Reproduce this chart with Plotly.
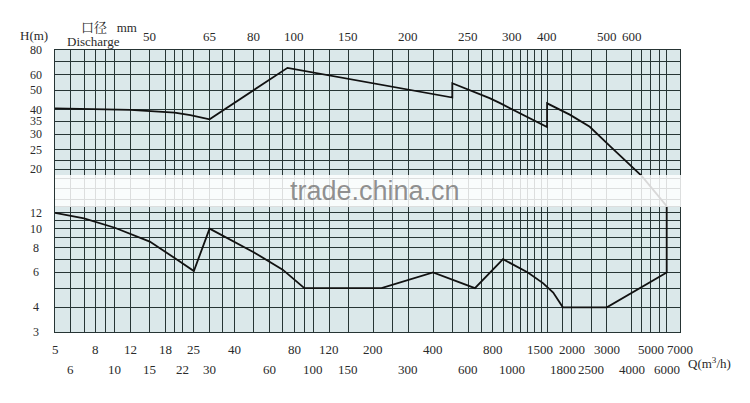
import math
import plotly.graph_objects as go

# ---- data ----
# upper (head) curve
upper_q = [5, 12, 20, 24, 30, 74, 500, 500, 770, 870, 1500, 1500, 1950, 2460, 3100, 4500, 6000]
upper_h = [40.5, 39.8, 38.6, 37.5, 35.7, 65.0, 46.0, 54.3, 45.7, 43.1, 32.6, 43.0, 37.7, 32.7, 26.2, 18.4, 13.0]
# lower curve
lower_q = [5, 7, 10, 15, 20, 25, 30, 50, 70, 90, 220, 400, 650, 900, 1200, 1430, 1610, 1800, 3000, 6000, 6000]
lower_h = [12.0, 11.26, 10.1, 8.6, 7.1, 6.1, 10.0, 7.6, 6.2, 5.0, 5.0, 6.0, 5.0, 7.0, 6.0, 5.3, 4.75, 4.0, 4.0, 6.0, 13.0]

# grid values
grid_q = [6, 7, 8, 9, 10, 12, 15, 18, 20, 22, 25, 30, 35, 40, 50, 60, 70, 80, 90, 100, 120, 150,
          200, 250, 300, 400, 500, 600, 700, 800, 900, 1000, 1100, 1200, 1300, 1400, 1500, 1800,
          2000, 2500, 3000, 4000, 4500, 5000, 5500, 6000]
grid_h = [4, 5, 6, 7, 8, 9, 10, 11, 12, 13, 14, 16, 18, 20, 22, 25, 30, 35, 40, 50, 60, 70]

# tick labels
x_row1 = [5, 8, 12, 18, 25, 40, 80, 120, 200, 400, 800, 1500, 2000, 3000, 5000, 7000]
x_row2 = [6, 10, 15, 22, 30, 60, 100, 150, 300, 600, 1000, 1800, 2500, 4000, 6000]
y_labels = [80, 60, 50, 40, 35, 30, 25, 20, 12, 10, 8, 6, 4, 3]
discharge_labels = ["50", "65", "80", "100", "150", "200", "250", "300", "400", "500", "600"]
discharge_q = [15, 30, 50, 80, 150, 300, 600, 1000, 1500, 3000, 4000]

SERIF = "Liberation Serif, Times New Roman, Noto Serif CJK SC, Noto Sans CJK SC, serif"
TXT = "#2a2a2a"
GRID = "#263434"

fig = go.Figure()
fig.add_trace(go.Scatter(x=upper_q, y=upper_h, mode="lines",
                         line=dict(color="#111111", width=1.8), hoverinfo="skip"))
fig.add_trace(go.Scatter(x=lower_q, y=lower_h, mode="lines",
                         line=dict(color="#111111", width=1.8), hoverinfo="skip"))

ann = []
for q in x_row1:
    ann.append(dict(x=math.log10(q), xref="x", y=0, yref="paper", yshift=-17,
                    xshift=-7 if q == 1500 else 0,
                    text=str(q), showarrow=False, xanchor="center", yanchor="middle",
                    font=dict(family=SERIF, size=13, color=TXT)))
for q in x_row2:
    ann.append(dict(x=math.log10(q), xref="x", y=0, yref="paper", yshift=-37,
                    text=str(q), showarrow=False, xanchor="center", yanchor="middle",
                    font=dict(family=SERIF, size=13, color=TXT)))
for h in y_labels:
    ann.append(dict(x=0, xref="paper", xshift=-19.5, y=math.log10(h), yref="y",
                    text=str(h), showarrow=False, xanchor="center", yanchor="middle",
                    font=dict(family=SERIF, size=12, color=TXT)))
for t, q in zip(discharge_labels, discharge_q):
    ann.append(dict(x=math.log10(q), xref="x", y=1, yref="paper", yshift=14,
                    text=t, showarrow=False, xanchor="center", yanchor="middle",
                    font=dict(family=SERIF, size=13, color=TXT)))
ann.append(dict(x=0, xref="paper", xshift=-21, y=1, yref="paper", yshift=15,
                text="H(m)", showarrow=False, xanchor="center", yanchor="middle",
                font=dict(family=SERIF, size=13, color=TXT)))
ann.append(dict(x=0, xref="paper", xshift=24, y=1, yref="paper", yshift=23,
                text="口径   mm", showarrow=False, xanchor="left", yanchor="middle",
                font=dict(family=SERIF, size=13, color=TXT)))
ann.append(dict(x=0, xref="paper", xshift=10, y=1, yref="paper", yshift=9,
                text="Discharge", showarrow=False, xanchor="left", yanchor="middle",
                font=dict(family=SERIF, size=13, color=TXT)))
ann.append(dict(x=1, xref="paper", xshift=6, y=0, yref="paper", yshift=-31,
                text="Q(m<sup>3</sup>/h)", showarrow=False, xanchor="left", yanchor="middle",
                font=dict(family=SERIF, size=13, color=TXT)))
ann.append(dict(x=0.512, xref="paper", y=0.5, yref="paper",
                text="trade.china.cn", showarrow=False, xanchor="center", yanchor="middle",
                font=dict(family="Liberation Sans, Arial, sans-serif", size=27,
                          color="rgba(125,125,125,0.85)")))

# the page body adds an 8px offset, so margins are shifted to keep the plot at 55..680 x 50..332
fig.update_layout(
    width=750, height=403,
    margin=dict(l=47, r=78, t=42, b=79),
    paper_bgcolor="white",
    plot_bgcolor="#dbe8ea",
    showlegend=False,
    annotations=ann,
    shapes=[dict(type="rect", xref="paper", yref="paper", x0=0, x1=1.003,
                 y0=0.4433, y1=0.5567, fillcolor="rgba(255,255,255,0.84)",
                 line=dict(width=0), layer="above")],
)
fig.update_xaxes(type="log", range=[math.log10(5), math.log10(7000)],
                 tickmode="array", tickvals=grid_q, showticklabels=False, ticks="",
                 showgrid=True, gridcolor=GRID, gridwidth=1,
                 showline=True, linecolor=GRID, linewidth=1, mirror=True,
                 zeroline=False)
fig.update_yaxes(type="log", range=[math.log10(3), math.log10(80)],
                 tickmode="array", tickvals=grid_h, showticklabels=False, ticks="",
                 showgrid=True, gridcolor=GRID, gridwidth=1,
                 showline=True, linecolor=GRID, linewidth=1, mirror=True,
                 zeroline=False)

fig.write_html("out.html")
